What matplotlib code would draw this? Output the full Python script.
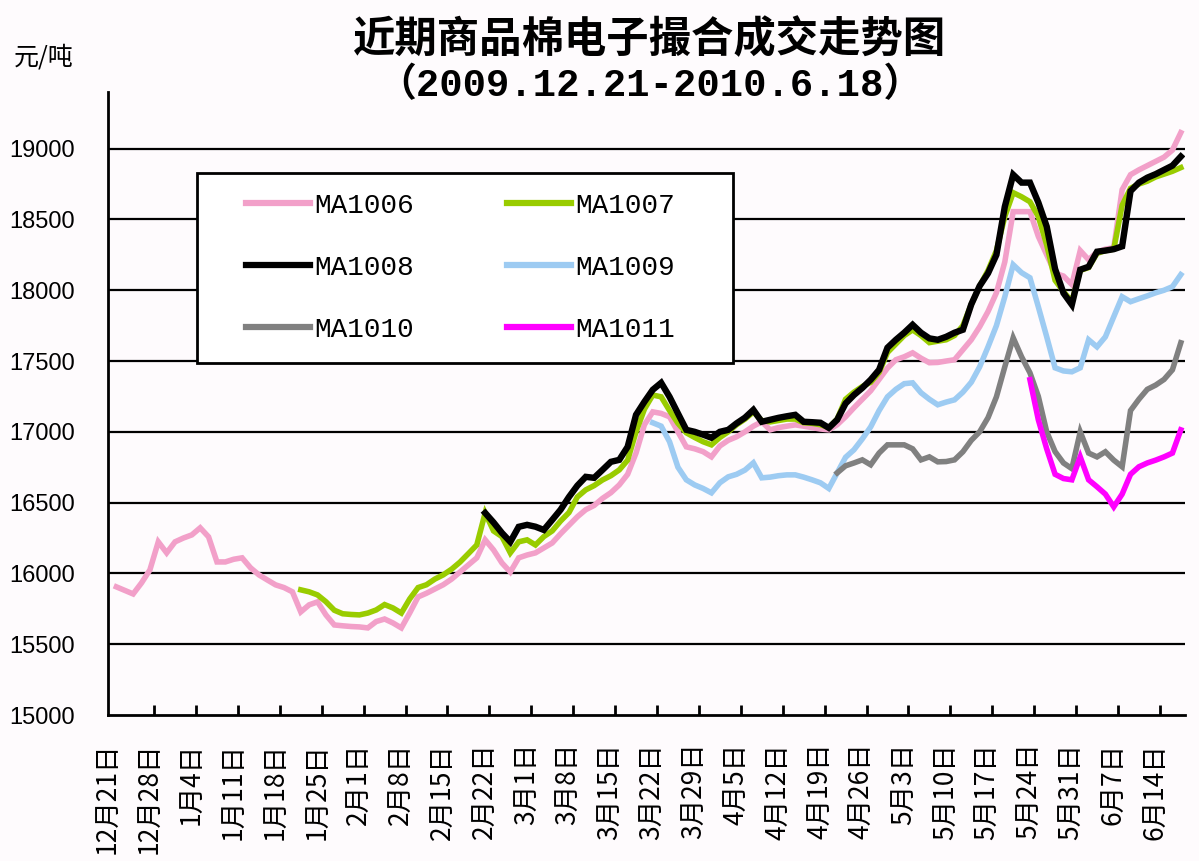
import numpy as np
import matplotlib
matplotlib.use("Agg")
import matplotlib.pyplot as plt
from matplotlib.patches import Rectangle

plt.rcParams['font.family'] = ['Noto Sans CJK SC', 'DejaVu Sans']

week_labels = ["12月21日", "12月28日", "1月4日", "1月11日", "1月18日", "1月25日",
               "2月1日", "2月8日", "2月15日", "2月22日", "3月1日", "3月8日",
               "3月15日", "3月22日", "3月29日", "4月5日", "4月12日", "4月19日",
               "4月26日", "5月3日", "5月10日", "5月17日", "5月24日", "5月31日",
               "6月7日", "6月14日"]
n_days = 128

# each contract: first trading-day index and daily prices (元/吨)
ma1006_start = 0
ma1006 = [15905, 15880, 15855, 15933, 16025, 16223, 16145, 16223, 16250, 16272,
          16322, 16258, 16081, 16081, 16100, 16110, 16040, 15990, 15954, 15919,
          15900, 15870, 15728, 15778, 15799, 15707, 15636, 15630, 15625, 15622,
          15615, 15660, 15678, 15650, 15615, 15721, 15834, 15860, 15890, 15920,
          15960, 16010, 16060, 16110, 16237, 16166, 16074, 16010, 16110, 16130,
          16145, 16180, 16215, 16280, 16340, 16400, 16450, 16480, 16530, 16570,
          16625, 16700, 16850, 17050, 17141, 17130, 17106, 17000, 16894, 16880,
          16860, 16823, 16900, 16940, 16965, 17000, 17040, 17071, 17014, 17030,
          17040, 17049, 17040, 17030, 17020, 17014, 17050, 17106, 17170, 17230,
          17290, 17370, 17450, 17509, 17530, 17558, 17520, 17488, 17490, 17500,
          17509, 17580, 17650, 17742, 17850, 17982, 18200, 18555, 18555, 18555,
          18380, 18250, 18120, 18100, 18040, 18280, 18215, 18270, 18290, 18300,
          18710, 18816, 18850, 18880, 18910, 18940, 18990, 19113]

ma1007_start = 22
ma1007 = [15884, 15870, 15848, 15800, 15740, 15715, 15710, 15707, 15720, 15742,
          15780, 15756, 15720, 15820, 15900, 15920, 15960, 15990, 16030, 16080,
          16140, 16201, 16427, 16300, 16260, 16145, 16223, 16237, 16201, 16260,
          16300, 16370, 16430, 16540, 16590, 16620, 16660, 16690, 16731, 16800,
          17000, 17160, 17260, 17247, 17150, 17060, 16993, 16960, 16930, 16908,
          16960, 17000, 17050, 17090, 17140, 17080, 17070, 17080, 17090, 17090,
          17064, 17060, 17050, 17030, 17090, 17230, 17280, 17320, 17350, 17420,
          17560, 17620, 17680, 17720, 17680, 17630, 17640, 17650, 17680, 17750,
          17900, 18030, 18140, 18280, 18520, 18689, 18660, 18625, 18520, 18320,
          18070, 17990, 17920, 18140, 18160, 18260, 18280, 18290, 18600, 18720,
          18750, 18770, 18800, 18820, 18840, 18866]

ma1008_start = 44
ma1008 = [16427, 16360, 16286, 16223, 16329, 16343, 16330, 16307, 16378, 16450,
          16540, 16620, 16682, 16675, 16731, 16788, 16802, 16894, 17120, 17212,
          17297, 17346, 17247, 17130, 17014, 17000, 16980, 16958, 17000, 17014,
          17060, 17100, 17155, 17071, 17085, 17099, 17110, 17120, 17071, 17068,
          17064, 17028, 17085, 17200, 17260, 17310, 17368, 17438, 17594, 17650,
          17700, 17756, 17700, 17660, 17650, 17671, 17700, 17721, 17900, 18030,
          18120, 18250, 18590, 18816, 18760, 18760, 18620, 18450, 18150, 17980,
          17898, 18145, 18166, 18272, 18280, 18290, 18310, 18700, 18760, 18795,
          18820, 18850, 18880, 18944]

ma1009_start = 64
ma1009 = [17064, 17040, 16930, 16750, 16661, 16625, 16600, 16569, 16640, 16682,
          16700, 16730, 16781, 16675, 16680, 16690, 16696, 16696, 16680, 16661,
          16640, 16600, 16710, 16820, 16873, 16950, 17035, 17150, 17247, 17300,
          17340, 17346, 17276, 17230, 17191, 17210, 17226, 17280, 17350, 17459,
          17600, 17750, 17954, 18180, 18124, 18088, 17883, 17671, 17452, 17430,
          17424, 17452, 17650, 17600, 17671, 17813, 17954, 17919, 17940, 17960,
          17982, 18000, 18025, 18110]

ma1010_start = 86
ma1010 = [16710, 16760, 16780, 16802, 16767, 16850, 16908, 16908, 16908, 16880,
          16802, 16823, 16788, 16790, 16802, 16859, 16940, 17000, 17100, 17247,
          17459, 17664, 17530, 17417, 17250, 17000, 16860, 16780, 16740, 17000,
          16850, 16823, 16859, 16800, 16753, 17150, 17230, 17300, 17330, 17370,
          17438, 17629]

ma1011_start = 109
ma1011 = [17368, 17085, 16880, 16700, 16670, 16661, 16823, 16661, 16612, 16560,
          16470, 16560, 16700, 16753, 16780, 16800, 16823, 16850, 17014]

series = [
    ("MA1006", ma1006_start, ma1006, "#F2A0C9", 4),
    ("MA1007", ma1007_start, ma1007, "#99CC00", 4),
    ("MA1008", ma1008_start, ma1008, "#000000", 4.6),
    ("MA1009", ma1009_start, ma1009, "#9DCBF2", 4),
    ("MA1010", ma1010_start, ma1010, "#808080", 4),
    ("MA1011", ma1011_start, ma1011, "#FF00FF", 4),
]

fig = plt.figure(figsize=(11.99, 8.61), dpi=100)
fig.patch.set_facecolor("#FEFBFD")
ax = fig.add_axes([108 / 1199, 1 - 715 / 861, 1077 / 1199, 623 / 861])
ax.set_facecolor("none")

handles = []
for name, start, vals, color, width in series:
    xs = np.arange(start, start + len(vals))
    ln, = ax.plot(xs, vals, color=color, lw=width, label=name, solid_joinstyle="miter", zorder=3)
    handles.append(ln)

ax.set_xlim(-0.5, n_days - 0.5)
ax.set_ylim(15000, 19400)

# grid
ax.set_yticks(np.arange(15000, 19001, 500))
for v in np.arange(15500, 19001, 500):
    ax.axhline(v, color="black", lw=1.6, zorder=1)

for s in ["top", "right"]:
    ax.spines[s].set_visible(False)
for s in ["left", "bottom"]:
    ax.spines[s].set_linewidth(2)

ax.tick_params(axis="y", length=0, pad=24, labelsize=17)
for t in ax.get_yticklabels():
    t.set_fontfamily("Liberation Sans")

# week labels and tick marks
ax.set_xticks([5 * k - 1 for k in range(len(week_labels))])
ax.set_xticklabels(week_labels, rotation=90, fontsize=19, va="top")
ax.tick_params(axis="x", length=0, pad=20)
ax.set_xticks([5 * k - 0.5 for k in range(1, len(week_labels))], minor=True)
ax.tick_params(axis="x", which="minor", direction="in", length=7, width=2)

# legend box, entries row by row: 1006 1007 / 1008 1009 / 1010 1011
ax.add_patch(Rectangle(((197 - 108) / 1077, (715 - 363) / 623), 536 / 1077, 190 / 623,
                       transform=ax.transAxes, facecolor="white", edgecolor="black",
                       lw=2, zorder=4))
order = [0, 2, 4, 1, 3, 5]
leg = ax.legend(handles=[handles[k] for k in order], ncol=2, loc="upper left",
                bbox_to_anchor=((246 - 108) / 1077, (715 - 193) / 623),
                frameon=False, borderpad=0, borderaxespad=0,
                handlelength=2.3, handletextpad=0.15, columnspacing=3.35,
                labelspacing=1.3, prop={"family": "Liberation Mono", "size": 20})
leg.set_zorder(5)
for h in leg.legend_handles:
    h.set_linewidth(4.5)

fig.text(0.542, 0.953, "近期商品棉电子撮合成交走势图", ha="center", va="center",
         fontsize=30.5, fontweight="bold")
fig.text(0.542, 0.901, "（2009.12.21-2010.6.18）", ha="center", va="center",
         fontsize=28, fontweight="bold", family=["Liberation Mono", "Noto Sans CJK SC"])
fig.text(0.036, 0.933, "元/吨", ha="center", va="center", fontsize=18)

fig.savefig("out.png", dpi=100, facecolor=fig.get_facecolor())
